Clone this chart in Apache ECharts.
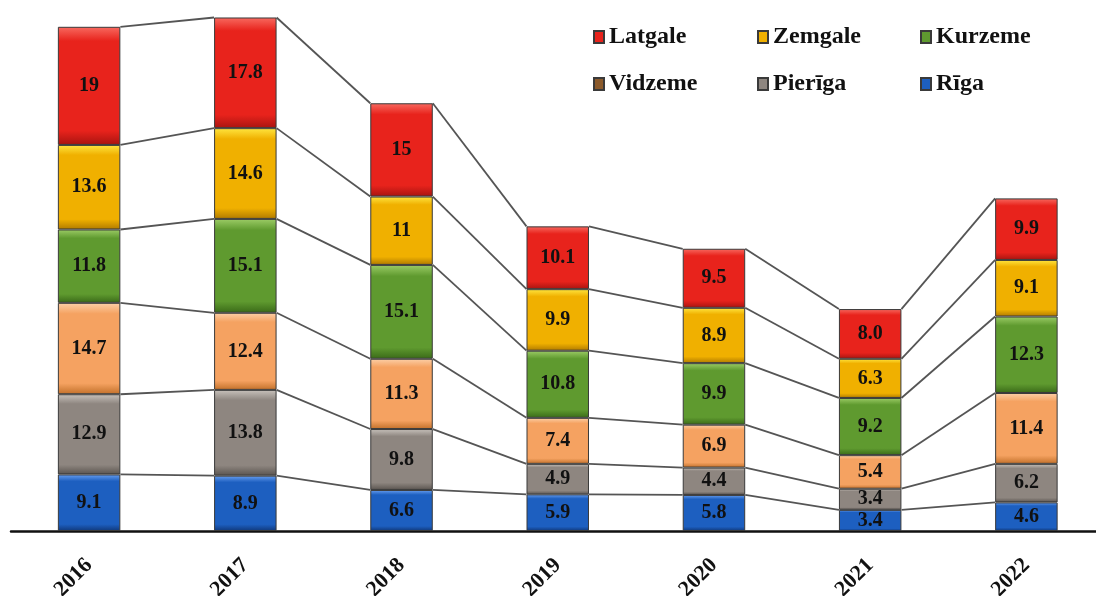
<!DOCTYPE html>
<html><head><meta charset="utf-8">
<script src="https://cdn.jsdelivr.net/npm/echarts@6/dist/echarts.min.js"></script>
<style>html,body{margin:0;padding:0;background:#fff}#c{width:1096px;height:596px}</style>
</head><body><div id="c"></div>
<script>
const years = ['2016','2017','2018','2019','2020','2021','2022'];
const riga     = [9.1, 8.9, 6.6, 5.9, 5.8, 3.4, 4.6];
const pieriga  = [12.9, 13.8, 9.8, 4.9, 4.4, 3.4, 6.2];
const vidzeme  = [14.7, 12.4, 11.3, 7.4, 6.9, 5.4, 11.4];
const kurzeme  = [11.8, 15.1, 15.1, 10.8, 9.9, 9.2, 12.3];
const zemgale  = [13.6, 14.6, 11, 9.9, 8.9, 6.3, 9.1];
const latgale  = [19, 17.8, 15, 10.1, 9.5, 8.0, 9.9];

const names = ['Rīga','Pierīga','Vidzeme','Kurzeme','Zemgale','Latgale'];
const values = [riga, pieriga, vidzeme, kurzeme, zemgale, latgale];
const colors = ['#1d5fc0','#8e8680','#f5a261','#5f9a2f','#f0b000','#e8231c'];
const tops = ['#6aa0f0','#c8c2bc','#fcd0a8','#9ccc66','#ffe640','#f86a60'];
const bottoms = ['#10387a','#5a544f','#c2702a','#3a6a18','#b07a00','#a81410'];

const cum = names.map((_, k) => years.map((_, i) => {
  let s = 0; for (let j = 0; j <= k; j++) s += values[j][i]; return s;
}));

const BAR = 0.4;
const fmt = v => (Number.isInteger(v) && v < 10) ? v.toFixed(1) : String(v);

const series = names.map((n, k) => ({
  name: n, type: 'bar', stack: 'total', barWidth: (BAR*100)+'%', z: 3,
  data: values[k],
  itemStyle: {
    color: new echarts.graphic.LinearGradient(0,0,0,1,[
      {offset:0,color:tops[k]},{offset:0.12,color:colors[k]},
      {offset:0.88,color:colors[k]},{offset:1,color:bottoms[k]}]),
    borderColor: '#3a3a3a', borderWidth: 1
  },
  label: {
    show: true, position: 'inside', color: '#111',
    fontFamily: 'Liberation Serif', fontWeight: 'bold', fontSize: 20,
    formatter: p => fmt(p.value)
  }
}));

series.push({
  type: 'custom', z: 1, silent: true,
  data: years.slice(0, -1).map((_, i) => [i]),
  renderItem: function (params, api) {
    const i = api.value(0);
    const band = api.size([1, 0])[0];
    const hw = band * BAR / 2;
    const children = cum.map(arr => {
      const a = api.coord([i, arr[i]]);
      const b = api.coord([i + 1, arr[i + 1]]);
      return {
        type: 'line',
        shape: { x1: a[0] + hw, y1: a[1], x2: b[0] - hw, y2: b[1] },
        style: { stroke: '#555', lineWidth: 1.8 }
      };
    });
    return { type: 'group', children };
  }
});

const legendText = { fontFamily: 'Liberation Serif', fontWeight: 'bold', fontSize: 24, color: '#111' };
const legendItems = [
  ['Latgale', 588, 20], ['Zemgale', 752, 20], ['Kurzeme', 915, 20],
  [{name:'Vidzeme', itemStyle:{color:'#8b5a2b'}}, 588, 67], ['Pierīga', 752, 67], ['Rīga', 915, 67]
];
const chart = echarts.init(document.getElementById('c'));
chart.setOption({
  animation: false,
  grid: { left: 11, width: 1093.5, top: 15, bottom: 65, containLabel: false, outerBoundsMode: 'none' },
  legend: legendItems.map(([d, l, t]) => ({
    data: [d], left: l, top: t, itemWidth: 10, itemHeight: 12, icon: 'rect',
    textStyle: legendText, selectedMode: false
  })),
  xAxis: {
    type: 'category', data: years,
    axisLine: { lineStyle: { color: '#111', width: 2.5 } },
    axisTick: { show: false },
    axisLabel: { rotate: 45, margin: 31, fontFamily: 'Liberation Serif', fontWeight: 'bold', fontSize: 22, color: '#111' }
  },
  yAxis: { type: 'value', min: 0, max: 83, show: false, splitLine: { show: false } },
  series
});
</script></body></html>
